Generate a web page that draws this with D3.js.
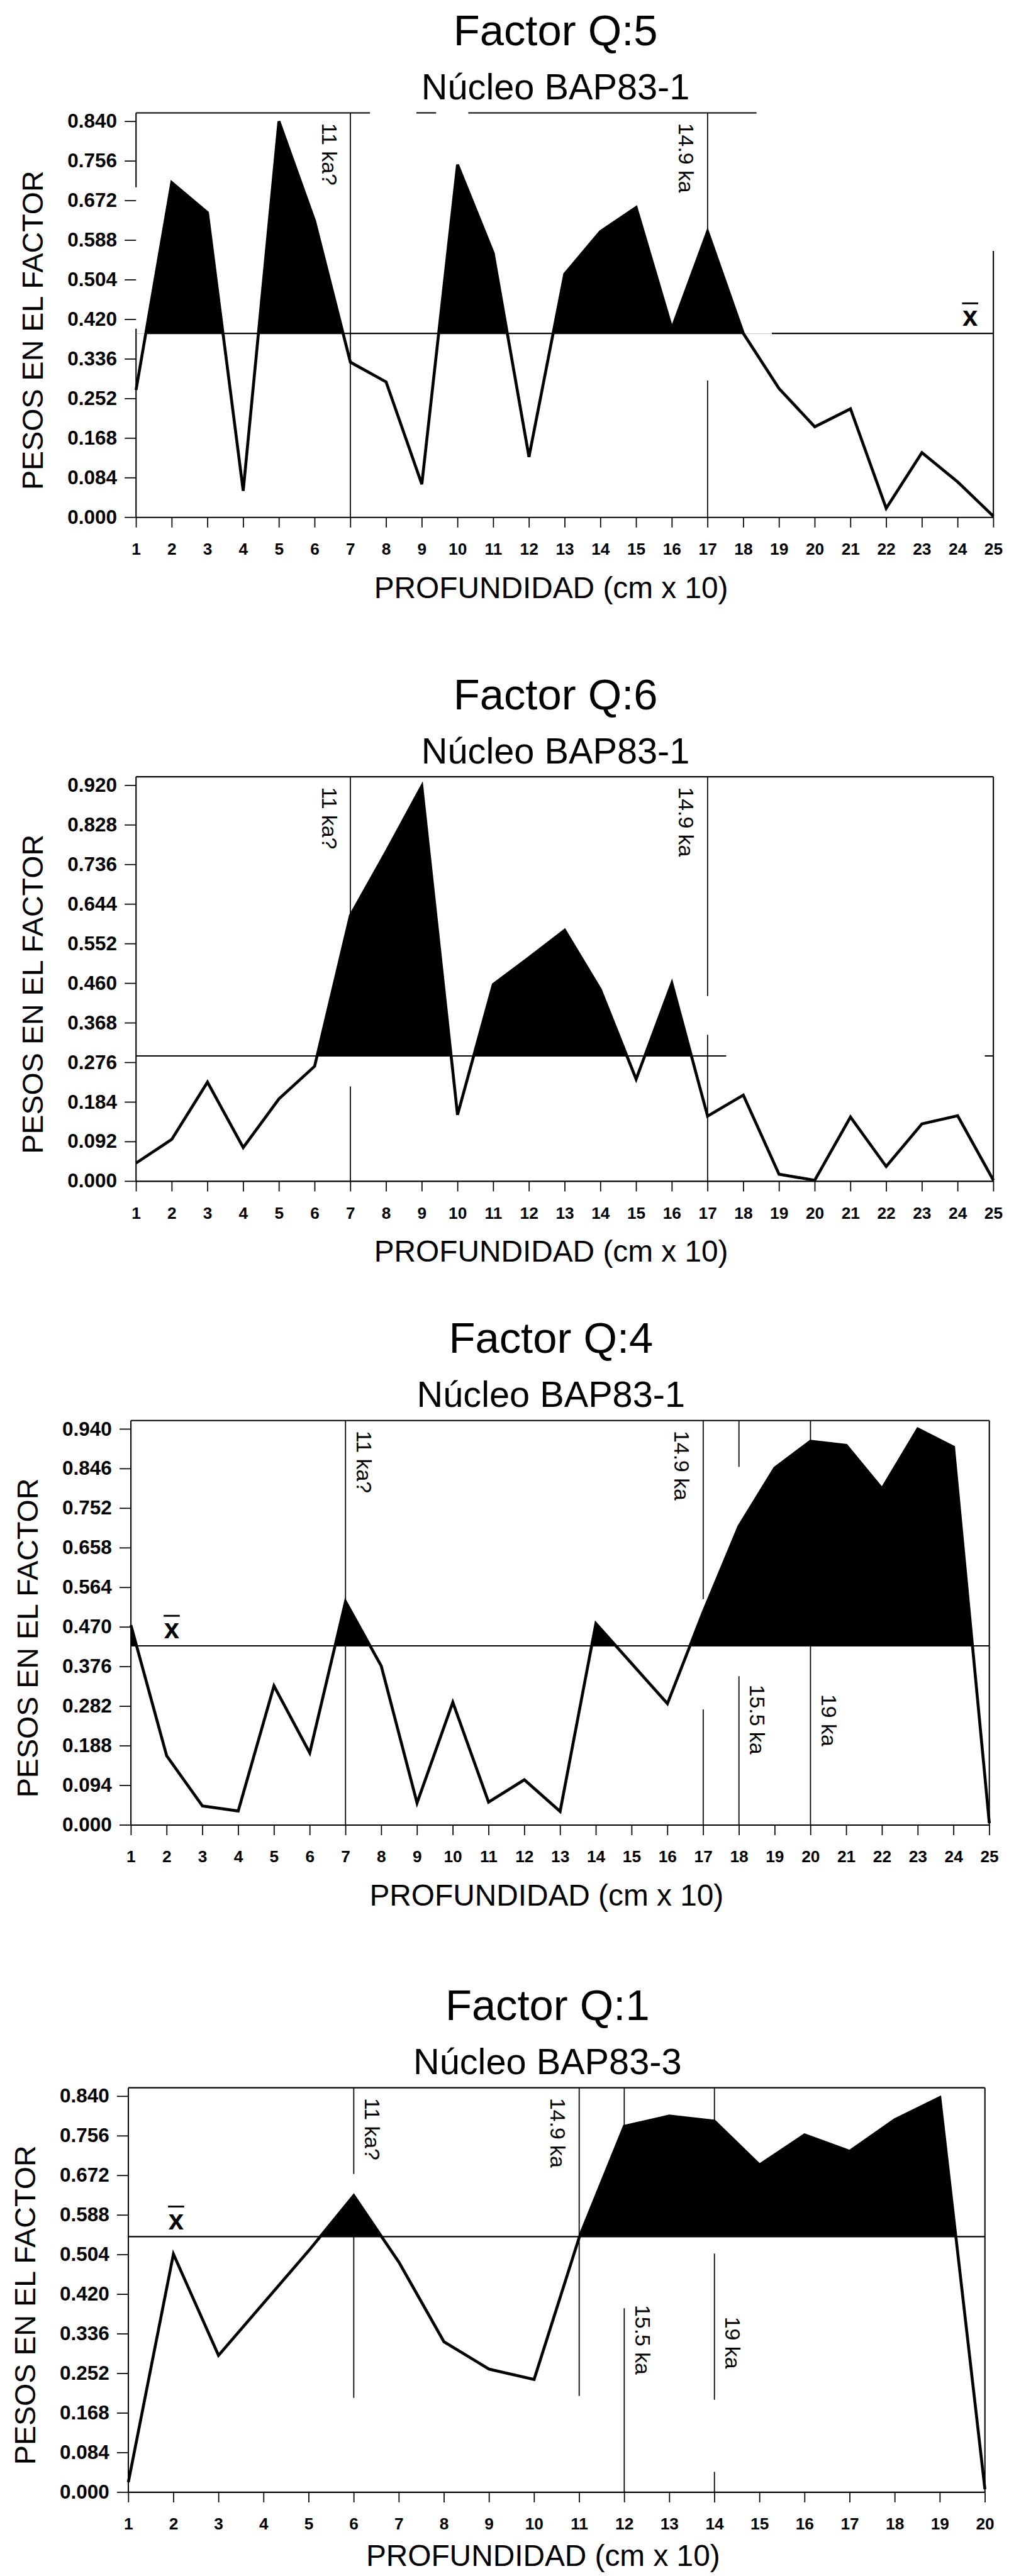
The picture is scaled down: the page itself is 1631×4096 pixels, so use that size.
<!DOCTYPE html>
<html>
<head>
<meta charset="utf-8">
<script src="https://cdn.jsdelivr.net/npm/d3@7"></script>
<style>
body { margin: 0; background: #fff; }
svg text { font-family: "Liberation Sans", Arial, Helvetica, sans-serif; fill: #000; }
</style>
</head>
<body>
<svg id="chart" width="1631" height="4096" viewBox="0 0 2798 7025"></svg>
<script>
// profundidad (cm x 10)
var depth25 = [1,2,3,4,5,6,7,8,9,10,11,12,13,14,15,16,17,18,19,20,21,22,23,24,25];
var depth20 = [1,2,3,4,5,6,7,8,9,10,11,12,13,14,15,16,17,18,19,20];

// pesos en el factor
var q5Values = [0.270,0.710,0.646,0.056,0.840,0.628,0.329,0.287,0.070,0.748,0.560,0.128,0.516,0.606,0.657,0.400,0.606,0.390,0.273,0.192,0.230,0.019,0.137,0.075,0.002];
var q6Values = [0.042,0.097,0.230,0.078,0.191,0.267,0.617,0.765,0.918,0.154,0.457,0.519,0.583,0.445,0.237,0.460,0.151,0.200,0.016,0.002,0.149,0.034,0.133,0.152,0.002];
var q4Values = [0.474,0.164,0.045,0.033,0.330,0.171,0.530,0.377,0.052,0.291,0.054,0.107,0.032,0.478,0.383,0.288,0.505,0.709,0.847,0.911,0.901,0.798,0.940,0.897,0.004];
var q1Values = [0.021,0.505,0.290,0.401,0.512,0.629,0.488,0.319,0.261,0.239,0.540,0.776,0.798,0.787,0.694,0.758,0.723,0.790,0.837,0.006];

var q5Ticks = [0.000,0.084,0.168,0.252,0.336,0.420,0.504,0.588,0.672,0.756,0.840];
var q6Ticks = [0.000,0.092,0.184,0.276,0.368,0.460,0.552,0.644,0.736,0.828,0.920];
var q4Ticks = [0.000,0.094,0.188,0.282,0.376,0.470,0.564,0.658,0.752,0.846,0.940];
var q1Ticks = [0.000,0.084,0.168,0.252,0.336,0.420,0.504,0.588,0.672,0.756,0.840];

var titles = ["Factor Q:5", "Factor Q:6", "Factor Q:4", "Factor Q:1"];
var cores = ["Núcleo BAP83-1", "Núcleo BAP83-1", "Núcleo BAP83-1", "Núcleo BAP83-3"];
var means = [0.390, 0.291, 0.425, 0.542];
var xbarAt = [24.35, null, 2.14, 2.06];

// age markers: null = top of frame
var q5Markers = [
    {depth: 7, label: "11 ka?", side: "left", at: null, segs: [[null, 0]]},
    {depth: 17, label: "14.9 ka", side: "left", at: null, segs: [[null, 0.606], [0.29, 0]]}
];
var q6Markers = [
    {depth: 7, label: "11 ka?", side: "left", at: null, segs: [[null, 0.617], [0.22, 0]]},
    {depth: 17, label: "14.9 ka", side: "left", at: null, segs: [[null, 0.43], [0.34, 0]]}
];
var q4Markers = [
    {depth: 7, label: "11 ka?", side: "right", at: null, segs: [[null, 0]]},
    {depth: 17, label: "14.9 ka", side: "left", at: null, segs: [[null, 0.536], [0.274, 0]]},
    {depth: 18, label: "15.5 ka", side: "right", at: 0.333, segs: [[null, 0.85], [0.353, 0]]},
    {depth: 20, label: "19 ka", side: "right", at: 0.310, segs: [[null, 0]]}
];
var q1Markers = [
    {depth: 6, label: "11 ka?", side: "right", at: null, segs: [[null, 0.675], [0.63, 0.20]]},
    {depth: 11, label: "14.9 ka", side: "left", at: null, segs: [[null, 0.204]]},
    {depth: 12, label: "15.5 ka", side: "right", at: 0.397, segs: [[null, 0.776], [0.39, 0]]},
    {depth: 14, label: "19 ka", side: "right", at: 0.372, segs: [[null, 0.787], [0.506, 0.196], [0.043, 0]]}
];

// frame pieces as printed (top in depth units, sides in value units)
var q5Frame = {top: [[1, 7.55], [8.85, 9.4], [10.3, 18.37]], left: [[null, 0.70], [0.40, 0]], right: [[0.565, 0]], mean: [[1.3, 18], [18.8, 25]]};
var q6Frame = {top: [[1, 25]], left: [[null, 0]], right: [[null, 0]], mean: [[1, 17.52], [24.76, 25]]};
var q4Frame = {top: [[1, 25]], left: [[null, 0]], right: [[null, 0]], mean: [[1, 25]]};
var q1Frame = {top: [[1, 20]], left: [[null, 0]], right: [[null, 0]], mean: [[1, 20]]};

var PLOT_H = 1080, FRAME_PAD = 23, PAGE_H = 7025;
var layout = [
    {zero: 1410, x0: 371, x1: 2709},
    {zero: 3221, x0: 371, x1: 2709},
    {zero: 4977, x0: 357, x1: 2698},
    {zero: 6797, x0: 350, x1: 2686}
];

var panels = [
    {depth: depth25, values: q5Values, ticks: q5Ticks, markers: q5Markers, frame: q5Frame},
    {depth: depth25, values: q6Values, ticks: q6Ticks, markers: q6Markers, frame: q6Frame},
    {depth: depth25, values: q4Values, ticks: q4Ticks, markers: q4Markers, frame: q4Frame},
    {depth: depth20, values: q1Values, ticks: q1Ticks, markers: q1Markers, frame: q1Frame}
];

var svg = d3.select("#chart");

panels.forEach(function(p, i) {
    var L = layout[i];
    var g = svg.append("g");
    var x = d3.scaleLinear()
        .domain([p.depth[0], p.depth[p.depth.length - 1]])
        .range([L.x0, L.x1]);
    var y = d3.scaleLinear()
        .domain([0, p.ticks[p.ticks.length - 1]])
        .range([L.zero, L.zero - PLOT_H]);
    var topY = L.zero - PLOT_H - FRAME_PAD;
    var yy = function(v) { return v === null ? topY : y(v); };
    var mean = means[i];

    // frame
    p.frame.top.forEach(function(s) {
        g.append("line")
        .attr("x1", x(s[0])).attr("x2", x(s[1]))
        .attr("y1", topY).attr("y2", topY)
        .attr("stroke", "#000").attr("stroke-width", 3.5);
    });
    p.frame.left.forEach(function(s) {
        g.append("line")
        .attr("x1", L.x0).attr("x2", L.x0)
        .attr("y1", yy(s[0])).attr("y2", yy(s[1]))
        .attr("stroke", "#000").attr("stroke-width", 3.5);
    });
    p.frame.right.forEach(function(s) {
        g.append("line")
        .attr("x1", L.x1).attr("x2", L.x1)
        .attr("y1", yy(s[0])).attr("y2", yy(s[1]))
        .attr("stroke", "#000").attr("stroke-width", 3.5);
    });

    // age markers
    p.markers.forEach(function(m) {
        m.segs.forEach(function(s) {
            g.append("line")
            .attr("x1", x(m.depth)).attr("x2", x(m.depth))
            .attr("y1", yy(s[0])).attr("y2", yy(s[1]))
            .attr("stroke", "#000").attr("stroke-width", 3);
        });
        var lx = m.side == "left" ? x(m.depth) - 78 : x(m.depth) + 30;
        var ly = m.at === null ? topY + 28 : y(m.at);
        g.append("text")
        .attr("transform", "translate(" + lx + "," + ly + ") rotate(90)")
        .attr("font-size", 58)
        .text(m.label);
    });

    // mean line
    p.frame.mean.forEach(function(s) {
        g.append("line")
        .attr("x1", x(s[0])).attr("x2", x(s[1]))
        .attr("y1", y(mean)).attr("y2", y(mean))
        .attr("stroke", "#000").attr("stroke-width", 3.5);
    });

    // black fill above the mean
    var pts = p.depth.map(function(d, k) { return {d: d, v: p.values[k]}; });
    svg.append("clipPath").attr("id", "above" + i)
    .append("rect")
    .attr("x", L.x0 - 10).attr("y", topY)
    .attr("width", L.x1 - L.x0 + 20).attr("height", y(mean) - topY);

    g.append("path")
    .datum(pts)
    .attr("clip-path", "url(#above" + i + ")")
    .attr("fill", "#000")
    .attr("d", d3.area()
        .x(function(d) { return x(d.d); })
        .y0(y(mean))
        .y1(function(d) { return y(d.v); }));

    g.append("path")
    .datum(pts)
    .attr("fill", "none")
    .attr("stroke", "#000")
    .attr("stroke-width", 8)
    .attr("stroke-linejoin", "miter")
    .attr("d", d3.line()
        .x(function(d) { return x(d.d); })
        .y(function(d) { return y(d.v); }));

    // axes
    var yAxis = g.append("g")
    .attr("transform", "translate(" + L.x0 + ",0)")
    .call(d3.axisLeft(y).tickValues(p.ticks).tickFormat(d3.format(".3f"))
        .tickSize(31).tickPadding(21).tickSizeOuter(0));
    yAxis.select(".domain").remove();
    yAxis.selectAll(".tick line").attr("stroke-width", 3);
    yAxis.selectAll(".tick text")
    .attr("font-size", 54).attr("font-weight", "bold")
    .attr("font-family", "Liberation Sans, Arial, sans-serif");

    var xAxis = g.append("g")
    .attr("transform", "translate(0," + L.zero + ")")
    .call(d3.axisBottom(x).tickValues(p.depth).tickFormat(d3.format("d"))
        .tickSize(28).tickPadding(42).tickSizeOuter(0));
    xAxis.select(".domain").attr("stroke-width", 3.5);
    xAxis.selectAll(".tick line").attr("stroke-width", 3);
    xAxis.selectAll(".tick text")
    .attr("font-size", 45).attr("font-weight", "bold")
    .attr("font-family", "Liberation Sans, Arial, sans-serif");

    // x bar label
    if (xbarAt[i] !== null) {
        var cx = x(xbarAt[i]), by = y(mean) - 20;
        g.append("text")
        .attr("x", cx).attr("y", by)
        .attr("text-anchor", "middle")
        .attr("font-size", 75).attr("font-weight", "bold")
        .text("x");
        g.append("line")
        .attr("x1", cx - 22).attr("x2", cx + 22)
        .attr("y1", by - 62).attr("y2", by - 62)
        .attr("stroke", "#000").attr("stroke-width", 5);
    }

    // titles
    var cmid = (L.x0 + L.x1) / 2;
    g.append("text")
    .attr("x", cmid - 25).attr("y", L.zero - 1287)
    .attr("text-anchor", "middle").attr("font-size", 118)
    .text(titles[i]);
    g.append("text")
    .attr("x", cmid - 25).attr("y", L.zero - 1140)
    .attr("text-anchor", "middle").attr("font-size", 99)
    .text(cores[i]);

    g.append("text")
    .attr("transform", "translate(" + (L.x0 - 254) + "," + (L.zero - PLOT_H / 2 + 30) + ") rotate(-90)")
    .attr("text-anchor", "middle").attr("font-size", 80)
    .text("PESOS EN EL FACTOR");

    g.append("text")
    .attr("x", cmid - 37).attr("y", Math.min(L.zero + 220, PAGE_H - 26))
    .attr("text-anchor", "middle").attr("font-size", 82)
    .text("PROFUNDIDAD (cm x 10)");
});
</script>
</body>
</html>
